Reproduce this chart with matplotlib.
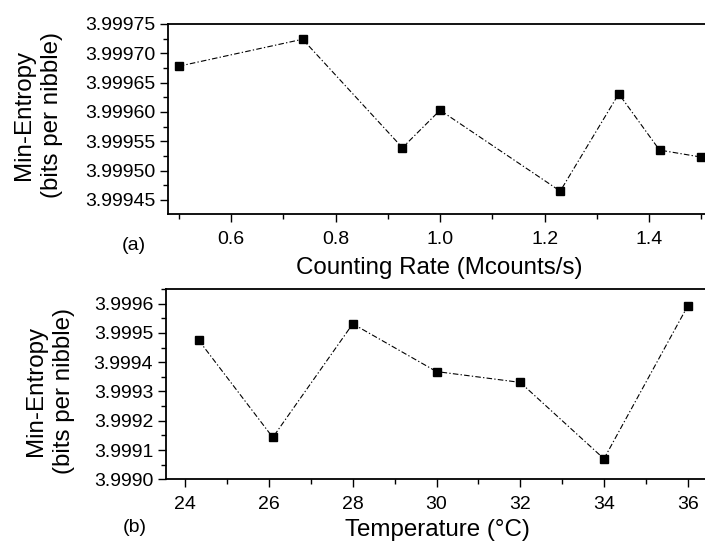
import matplotlib
matplotlib.use("Agg")
import matplotlib.pyplot as plt
from matplotlib.ticker import MultipleLocator, FormatStrFormatter

plt.rcParams['font.family'] = ['Liberation Sans', 'DejaVu Sans']

# (a) min-entropy vs counting rate
rate = [0.50, 0.737, 0.928, 1.00, 1.230, 1.342, 1.420, 1.500]
entropy_rate = [3.999678, 3.999724, 3.999539, 3.999603, 3.999465, 3.999631, 3.999535, 3.999523]

# (b) min-entropy vs temperature
temp = [24.32, 26.09, 28.0, 30.0, 32.0, 34.0, 36.0]
entropy_temp = [3.999475, 3.999143, 3.999531, 3.999368, 3.999331, 3.999070, 3.999592]

fig = plt.figure(figsize=(7.05, 5.43), dpi=100)
ax1 = fig.add_axes([168 / 705, 1 - 214 / 543, 1 - 168 / 705, 190 / 543])
ax2 = fig.add_axes([165.7 / 705, 1 - 479.3 / 543, 1 - 165.7 / 705, 190.3 / 543])

dash = (0, (5, 2, 1.2, 2))


def style_axes(ax):
    ax.spines['right'].set_visible(False)
    for s in ['left', 'top', 'bottom']:
        ax.spines[s].set_linewidth(1.3)
    ax.tick_params(which='both', direction='out', top=False, right=False, width=1.0, labelsize=14)
    ax.tick_params(which='major', length=6)
    ax.tick_params(which='minor', length=3.5)
    ax.tick_params(axis='x', pad=6)
    ax.tick_params(axis='y', pad=3)


ax1.plot(rate, entropy_rate, color='black', linewidth=0.8, linestyle=dash,
         marker='s', markersize=6)
ax1.set_xlim(0.4794, 1.507)
ax1.set_ylim(3.999426, 3.99975)
ax1.xaxis.set_major_locator(MultipleLocator(0.2))
ax1.xaxis.set_minor_locator(MultipleLocator(0.1))
ax1.xaxis.set_major_formatter(FormatStrFormatter('%.1f'))
ax1.yaxis.set_major_locator(MultipleLocator(0.00005))
ax1.yaxis.set_minor_locator(MultipleLocator(0.000025))
ax1.yaxis.set_major_formatter(FormatStrFormatter('%.5f'))
style_axes(ax1)

ax2.plot(temp, entropy_temp, color='black', linewidth=0.8, linestyle=dash,
         marker='s', markersize=6)
ax2.set_xlim(23.532, 36.413)
ax2.set_ylim(3.9990, 3.99965)
ax2.xaxis.set_major_locator(MultipleLocator(2))
ax2.xaxis.set_minor_locator(MultipleLocator(1))
ax2.yaxis.set_major_locator(MultipleLocator(0.0001))
ax2.yaxis.set_minor_locator(MultipleLocator(0.00005))
ax2.yaxis.set_major_formatter(FormatStrFormatter('%.4f'))
style_axes(ax2)

# axis titles
fig.text(439 / 705, 1 - 268 / 543, 'Counting Rate (Mcounts/s)', fontsize=17.4,
         ha='center', va='center')
fig.text(437 / 705, 1 - 530 / 543, 'Temperature (°C)', fontsize=17.4,
         ha='center', va='center')
fig.text(38 / 705, 1 - 115 / 543, 'Min-Entropy\n(bits per nibble)', fontsize=17.4,
         rotation=90, ha='center', va='center', multialignment='center', linespacing=1.3)
fig.text(50 / 705, 1 - 391 / 543, 'Min-Entropy\n(bits per nibble)', fontsize=17.4,
         rotation=90, ha='center', va='center', multialignment='center', linespacing=1.3)

# panel labels
fig.text(134 / 705, 1 - 246 / 543, '(a)', fontsize=14, ha='center', va='center')
fig.text(135 / 705, 1 - 528 / 543, '(b)', fontsize=14, ha='center', va='center')

fig.savefig('out.png', dpi=100)
